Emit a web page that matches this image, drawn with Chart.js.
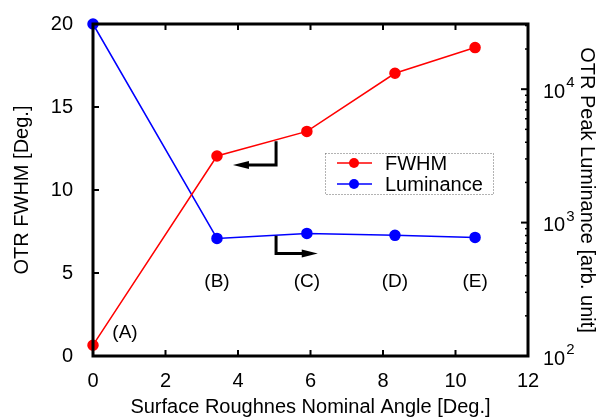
<!DOCTYPE html>
<html>
<head>
<meta charset="utf-8">
<script src="https://cdn.jsdelivr.net/npm/chart.js@4"></script>
<style>
  body { margin: 0; background: #fff; }
  #wrap { width: 604px; height: 420px; }
</style>
</head>
<body>
<div id="wrap"><canvas id="chart"></canvas></div>
<script>
// data
const angles = [0, 3.42, 5.9, 8.33, 10.54];
const fwhm = [0.65, 12.05, 13.53, 17.03, 18.58];
const luminance = [30800, 761, 830, 802, 774];
const sampleNames = ["(A)", "(B)", "(C)", "(D)", "(E)"];
const xTicks = [0, 2, 4, 6, 8, 10, 12];
const yTicks = [0, 5, 10, 15, 20];
const logTicks = [100, 1000, 10000];

const fontName = "'Liberation Sans', Arial, sans-serif";

function toPoints(xs, ys) {
  return xs.map((x, i) => ({ x: x, y: ys[i] }));
}

// frame, ticks inside, superscript labels, arrows, legend and (A)..(E)
const extras = {
  id: "extras",
  afterDatasetsDraw(chart) {
    const ctx = chart.ctx;
    const a = chart.chartArea;
    const sx = chart.scales.x, sy = chart.scales.y, sy2 = chart.scales.y2;
    ctx.save();
    ctx.strokeStyle = "#000";
    ctx.fillStyle = "#000";

    // x ticks bottom and top
    ctx.lineWidth = 2;
    xTicks.forEach(v => {
      if (v === 0 || v === 12) return;
      const px = sx.getPixelForValue(v);
      ctx.beginPath();
      ctx.moveTo(px, a.bottom); ctx.lineTo(px, a.bottom - 6);
      ctx.moveTo(px, a.top); ctx.lineTo(px, a.top + 6);
      ctx.stroke();
    });
    // left ticks
    yTicks.forEach(v => {
      if (v === 0 || v === 20) return;
      const py = sy.getPixelForValue(v);
      ctx.beginPath();
      ctx.moveTo(a.left, py); ctx.lineTo(a.left + 6, py);
      ctx.stroke();
    });
    // right log ticks, major and minor
    for (let dec = 100; dec <= 10000; dec *= 10) {
      for (let m = 1; m <= 9; m++) {
        const v = dec * m;
        if (v >= sy2.max || v <= sy2.min) continue;
        const py = sy2.getPixelForValue(v);
        ctx.beginPath();
        ctx.lineWidth = m === 1 ? 2 : 1.5;
        ctx.moveTo(a.right, py); ctx.lineTo(a.right - (m === 1 ? 7 : 3), py);
        ctx.stroke();
      }
    }

    // frame
    ctx.lineWidth = 3;
    ctx.strokeRect(a.left, a.top, a.right - a.left, a.bottom - a.top);

    // right labels 10^n
    logTicks.forEach(v => {
      const py = sy2.getPixelForValue(v);
      const exp = String(Math.round(Math.log10(v)));
      ctx.font = "20px " + fontName;
      ctx.textAlign = "left";
      ctx.textBaseline = "middle";
      const x0 = a.right + 15;
      ctx.fillText("10", x0, py + 3);
      const w = ctx.measureText("10").width;
      ctx.font = "15px " + fontName;
      ctx.fillText(exp, x0 + w + 1, py - 6);
    });

    // sample names
    ctx.font = "19px " + fontName;
    ctx.textAlign = "center";
    ctx.textBaseline = "middle";
    sampleNames.forEach((s, i) => {
      if (i === 0) {
        ctx.fillText(s, sx.getPixelForValue(angles[i]) + 32, sy.getPixelForValue(fwhm[i]) - 12);
      } else {
        ctx.fillText(s, sx.getPixelForValue(angles[i]), sy.getPixelForValue(4.45));
      }
    });

    // arrows showing which axis each curve uses
    function arrow(xv, y1, y2v, tipX) {
      const px = sx.getPixelForValue(xv);
      const p1 = sy.getPixelForValue(y1);
      const p2 = sy.getPixelForValue(y2v);
      const tx = sx.getPixelForValue(tipX);
      const dir = tx < px ? 1 : -1;
      ctx.lineWidth = 3;
      ctx.beginPath();
      ctx.moveTo(px, p1); ctx.lineTo(px, p2); ctx.lineTo(tx + dir * 10, p2);
      ctx.stroke();
      ctx.beginPath();
      ctx.moveTo(tx, p2);
      ctx.lineTo(tx + dir * 16, p2 - 4);
      ctx.lineTo(tx + dir * 16, p2 + 4);
      ctx.closePath();
      ctx.fill();
    }
    arrow(5.05, 12.94, 11.5, 3.86);
    arrow(5.05, 7.24, 6.17, 6.2);

    // legend box
    const lx = 325, ly = 153, lw = 168, lh = 41;
    ctx.lineWidth = 1;
    ctx.strokeStyle = "#666";
    ctx.setLineDash([1, 2]);
    ctx.strokeRect(lx + 0.5, ly + 0.5, lw, lh);
    ctx.setLineDash([]);
    chart.data.datasets.forEach((ds, i) => {
      const cy = ly + 10 + i * 21;
      ctx.strokeStyle = ds.borderColor;
      ctx.fillStyle = ds.borderColor;
      ctx.lineWidth = 1.5;
      ctx.beginPath();
      ctx.moveTo(lx + 12, cy); ctx.lineTo(lx + 47, cy);
      ctx.stroke();
      ctx.beginPath();
      ctx.arc(lx + 29, cy, 5, 0, Math.PI * 2);
      ctx.fill();
      ctx.fillStyle = "#000";
      ctx.font = "20px " + fontName;
      ctx.textAlign = "left";
      ctx.fillText(ds.label, lx + 60, cy + 1);
    });
    ctx.restore();
  }
};

new Chart(document.getElementById("chart"), {
  type: "line",
  data: {
    datasets: [{
      label: "FWHM",
      data: toPoints(angles, fwhm),
      borderColor: "#ff0000",
      backgroundColor: "#ff0000",
      borderWidth: 1.5,
      pointRadius: 5,
      pointHoverRadius: 5,
      yAxisID: "y",
      clip: false
    }, {
      label: "Luminance",
      data: toPoints(angles, luminance),
      borderColor: "#0000ff",
      backgroundColor: "#0000ff",
      borderWidth: 1.5,
      pointRadius: 5,
      pointHoverRadius: 5,
      yAxisID: "y2",
      clip: false
    }]
  },
  options: {
    responsive: true,
    maintainAspectRatio: false,
    animation: false,
    events: [],
    layout: { padding: { top: 19, left: 0, right: 0, bottom: 0 } },
    plugins: { legend: { display: false }, tooltip: { enabled: false } },
    scales: {
      x: {
        type: "linear",
        min: 0, max: 12,
        afterBuildTicks: s => { s.ticks = xTicks.map(v => ({ value: v })); },
        afterFit: s => { s.height = 64; },
        ticks: { color: "#000", font: { size: 20, family: fontName }, padding: 5, maxRotation: 0 },
        grid: { display: false },
        border: { display: false },
        title: { display: true, text: "Surface Roughnes Nominal Angle [Deg.]", color: "#000",
                 font: { size: 20, family: fontName }, padding: { top: 0, bottom: 1 } }
      },
      y: {
        type: "linear",
        position: "left",
        min: 0, max: 20,
        afterBuildTicks: s => { s.ticks = yTicks.map(v => ({ value: v })); },
        afterFit: s => { s.width = 93; },
        ticks: { color: "#000", font: { size: 20, family: fontName }, padding: 12 },
        grid: { display: false },
        border: { display: false },
        title: { display: true, text: "OTR FWHM [Deg.]", color: "#000",
                 font: { size: 20, family: fontName }, padding: { top: 10, bottom: 0 } }
      },
      y2: {
        type: "logarithmic",
        position: "right",
        min: 100, max: 30800,
        afterFit: s => { s.width = 76; },
        ticks: { display: false },
        grid: { display: false },
        border: { display: false },
        title: { display: true, text: "OTR Peak Luminance [arb. unit]", color: "#000",
                 font: { size: 20, family: fontName }, padding: { top: 5, bottom: 0 } }
      }
    }
  },
  plugins: [extras]
});
</script>
</body>
</html>
